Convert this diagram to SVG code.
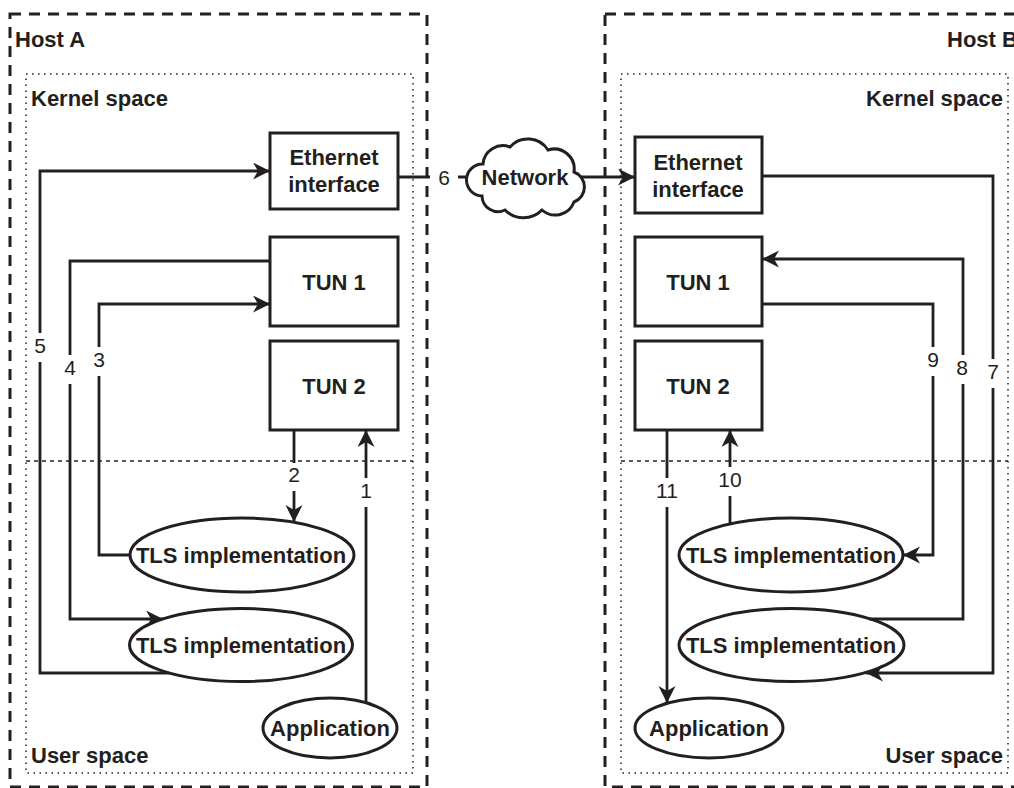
<svg xmlns="http://www.w3.org/2000/svg" width="1014" height="788" viewBox="0 0 1014 788">
<style>
.host{fill:none;stroke:#231f20;stroke-width:3;stroke-dasharray:11 8}
.space{fill:none;stroke:#231f20;stroke-width:1.5;stroke-dasharray:1.5 4.5}
.div{fill:none;stroke:#231f20;stroke-width:1.3;stroke-dasharray:4 4}
.t{font-family:"Liberation Sans",Arial,Helvetica,sans-serif;font-weight:bold;font-size:22px;fill:#231f20}
.c{text-anchor:middle}
.box{fill:#fff;stroke:#231f20;stroke-width:3}
.edge{fill:none;stroke:#231f20;stroke-width:2.8}
.arr{marker-end:url(#ah)}
.lbg{fill:#fff}
.n{font-family:"Liberation Sans",Arial,Helvetica,sans-serif;font-size:21px;fill:#231f20;text-anchor:middle}
</style>
<defs>
<marker id="ah" markerUnits="userSpaceOnUse" markerWidth="20" markerHeight="20" refX="17" refY="8.5" orient="auto">
<path d="M0,0 L17,8.5 L0,17 L5,8.5 Z" fill="#231f20"/>
</marker>
</defs>
<rect width="1014" height="788" fill="#fff"/>
<g id="hostA">
<rect class="host" x="10" y="14" width="417" height="773"/>
<text class="t" x="15" y="47">Host A</text>
</g>
<g id="hostB">
<rect class="host" x="605" y="14" width="430" height="773"/>
<text class="t" x="947" y="47">Host B</text>
</g>
<g id="spacesA">
<rect class="space" x="26" y="74" width="387" height="699"/>
<line class="div" x1="26" y1="461" x2="413" y2="461"/>
<text class="t" x="31" y="106">Kernel space</text>
<text class="t" x="31" y="763">User space</text>
</g>
<g id="spacesB">
<rect class="space" x="621" y="74" width="387" height="699"/>
<line class="div" x1="621" y1="461" x2="1008" y2="461"/>
<text class="t" x="1003" y="106" text-anchor="end">Kernel space</text>
<text class="t" x="1003" y="763" text-anchor="end">User space</text>
</g>
<g id="ethA"><rect class="box" x="270" y="133" width="128" height="76"/><text class="t c" x="334" y="165">Ethernet</text><text class="t c" x="334" y="192">interface</text></g>
<g id="tun1A"><rect class="box" x="270" y="237" width="128" height="89"/><text class="t c" x="334" y="290">TUN 1</text></g>
<g id="tun2A"><rect class="box" x="270" y="341" width="128" height="89"/><text class="t c" x="334" y="394">TUN 2</text></g>
<g id="tls1A"><ellipse class="box" cx="242" cy="555" rx="112" ry="37"/><text class="t c" x="241" y="563">TLS implementation</text></g>
<g id="tls2A"><ellipse class="box" cx="241" cy="645" rx="111.5" ry="36.5"/><text class="t c" x="241" y="653">TLS implementation</text></g>
<g id="appA"><ellipse class="box" cx="330" cy="728" rx="67" ry="30"/><text class="t c" x="330" y="736">Application</text></g>
<g id="ethB"><rect class="box" x="635" y="137" width="127" height="76"/><text class="t c" x="698" y="170">Ethernet</text><text class="t c" x="698" y="197">interface</text></g>
<g id="tun1B"><rect class="box" x="635" y="237" width="127" height="89"/><text class="t c" x="698" y="290">TUN 1</text></g>
<g id="tun2B"><rect class="box" x="635" y="341" width="127" height="89"/><text class="t c" x="698" y="394">TUN 2</text></g>
<g id="tls1B"><ellipse class="box" cx="791" cy="555" rx="112" ry="37"/><text class="t c" x="791" y="563">TLS implementation</text></g>
<g id="tls2B"><ellipse class="box" cx="791.5" cy="645" rx="112.5" ry="36.5"/><text class="t c" x="791" y="653">TLS implementation</text></g>
<g id="appB"><ellipse class="box" cx="709" cy="728" rx="74" ry="30"/><text class="t c" x="709" y="736">Application</text></g>
<g id="connectors">
<path class="edge" d="M398,177 H472"/>
<path class="edge arr" d="M576,177 H635"/>
<path class="edge arr" d="M366,703 V430"/>
<path class="edge arr" d="M294,430 V522"/>
<path class="edge arr" d="M130,555 H99 V304 H270"/>
<path class="edge arr" d="M270,261 H70 V619 H163"/>
<path class="edge arr" d="M169,673 H40 V171 H270"/>
<path class="edge arr" d="M762,176 H993 V673 H866"/>
<path class="edge arr" d="M869,619 H963 V259 H762"/>
<path class="edge arr" d="M762,304 H933 V555 H903"/>
<path class="edge arr" d="M730,524 V430"/>
<path class="edge arr" d="M667,430 V703"/>
<rect class="lbg" x="32" y="333" width="16" height="29"/><text class="n" x="40" y="353">5</text>
<rect class="lbg" x="62" y="355" width="16" height="29"/><text class="n" x="70" y="375">4</text>
<rect class="lbg" x="91" y="347" width="16" height="29"/><text class="n" x="99" y="367">3</text>
<rect class="lbg" x="286" y="463" width="16" height="28"/><text class="n" x="294" y="482">2</text>
<rect class="lbg" x="358" y="478" width="16" height="29"/><text class="n" x="366" y="498">1</text>
<rect class="lbg" x="430" y="165" width="28" height="24"/><text class="n" x="444" y="185">6</text>
<rect class="lbg" x="985" y="359" width="16" height="29"/><text class="n" x="993" y="379">7</text>
<rect class="lbg" x="954" y="355" width="16" height="29"/><text class="n" x="962" y="375">8</text>
<rect class="lbg" x="925" y="347" width="16" height="29"/><text class="n" x="933" y="367">9</text>
<rect class="lbg" x="716" y="467" width="28" height="29"/><text class="n" x="730" y="487">10</text>
<rect class="lbg" x="653" y="478" width="28" height="29"/><text class="n" x="667" y="498">11</text>
</g>
<g id="network">
<path class="box" d="M482,196 A16 16 0 0 1 483,164 A20 20 0 0 1 510,147 A24 24 0 0 1 548,150 A20 20 0 0 1 574,172 A16 16 0 0 1 574,202 A20 20 0 0 1 542,210 A26 26 0 0 1 505,210 A16 16 0 0 1 482,196 Z"/>
<text class="t c" x="525" y="185">Network</text>
</g>
</svg>
